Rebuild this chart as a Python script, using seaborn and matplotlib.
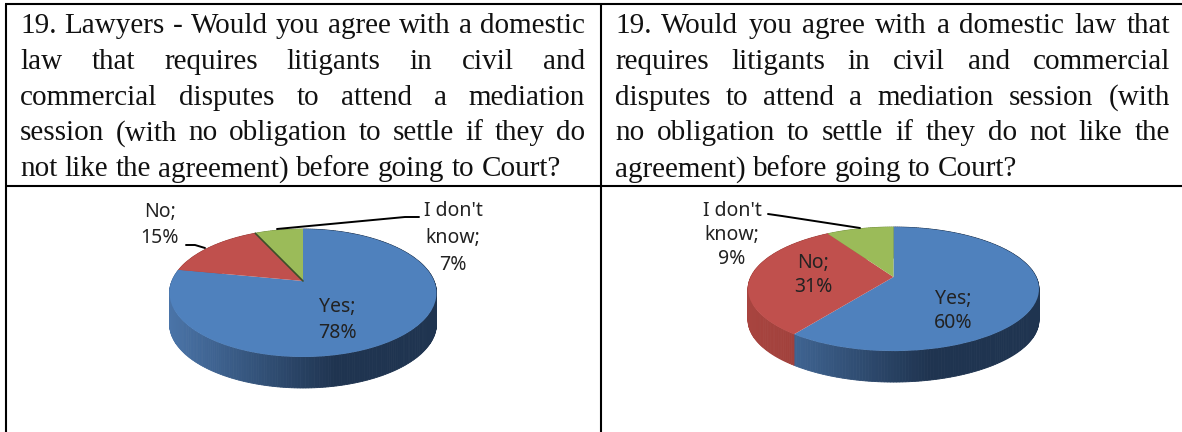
import numpy as np
import matplotlib
matplotlib.use("Agg")
import matplotlib.pyplot as plt
import matplotlib.transforms as transforms
import matplotlib.colors as mcolors
import seaborn as sns

categories = ["Yes", "No", "I don't\nknow"]
lawyers_pct = [78, 15, 7]
everyone_pct = [60, 31, 9]

question_left = [
    "19. Lawyers - Would you agree with a domestic",
    "law that requires litigants in civil and",
    "commercial disputes to attend a mediation",
    "session (with no obligation to settle if they do",
    "not like the agreement) before going to Court?",
]
question_right = [
    "19.  Would you agree with a domestic law that",
    "requires litigants in civil and commercial",
    "disputes to attend a mediation session (with",
    "no obligation to settle if they do not like the",
    "agreement) before going to Court?",
]

top_colors = sns.color_palette(["#4f81bd", "#c0504d", "#9bbb59"])
side_light = ["#4a74a8", "#a8443f", "#86a24c"]
side_dark = ["#1f3450", "#8c3833", "#6f8a3c"]


class Tilt(transforms.Transform):
    """Unit disc seen at an angle, mapped to pixel coordinates."""
    input_dims = 2
    output_dims = 2

    def __init__(self, cx, cy, b, a, p):
        super().__init__()
        self.cx, self.cy, self.b, self.a, self.p = cx, cy, b, a, p

    def transform_non_affine(self, xy):
        xy = np.asarray(xy, dtype=float)
        w = 1 + self.p * xy[:, 1]
        return np.column_stack([self.cx + self.b * xy[:, 0] / w,
                                self.cy - self.a * xy[:, 1] / w])


def draw_pie(ax, values, cx, cy, b, a, p, depth):
    tilt = Tilt(cx, cy, b, a, p)
    # side wall first, top surface covers the back half
    edges = np.cumsum([0] + list(values)) / sum(values) * 2 * np.pi
    theta = np.linspace(0, 2 * np.pi, 361)
    rim = tilt.transform_non_affine(np.column_stack([np.sin(theta), np.cos(theta)]))
    xmin, xmax = rim[:, 0].min(), rim[:, 0].max()
    for i in range(360):
        mid = (theta[i] + theta[i + 1]) / 2
        k = np.searchsorted(edges, mid) - 1
        frac = min(1, ((rim[i, 0] + rim[i + 1, 0]) / 2 - xmin) / (xmax - xmin) / 0.62)
        col = np.array(mcolors.to_rgb(side_light[k])) * (1 - frac) \
            + np.array(mcolors.to_rgb(side_dark[k])) * frac
        quad = np.array([rim[i], rim[i + 1], rim[i + 1] + [0, depth], rim[i] + [0, depth]])
        ax.fill(quad[:, 0], quad[:, 1], color=col, lw=0.6, zorder=2)

    wedges, _ = ax.pie(values, colors=top_colors, startangle=90, counterclock=False,
                       wedgeprops={"linewidth": 0})
    for w in wedges:
        w.set_transform(tilt + ax.transData)
        w.set_zorder(3)


sns.set_theme(style="white")
plt.rcParams["font.family"] = ["Liberation Serif", "DejaVu Serif"]

fig = plt.figure(figsize=(11.82, 4.32), dpi=100)
ax = fig.add_axes([0, 0, 1, 1])

draw_pie(ax, lawyers_pct, 303, 281, 131.1, 61.75, 0.1875, 31)
draw_pie(ax, everyone_pct, 893.5, 277, 142.7, 59.7, 0.194, 31)

ax.set_aspect("auto")
ax.set_xlim(0, 1182)
ax.set_ylim(432, 0)
ax.axis("off")

# dark seam between No and I don't know on the left pie
seam = np.radians(sum(lawyers_pct[:2]) / sum(lawyers_pct) * 360)
seam_xy = Tilt(303, 281, 131.1, 61.75, 0.1875).transform_non_affine(
    np.array([[0, 0], [np.sin(seam), np.cos(seam)]]))
ax.plot(seam_xy[:, 0], seam_xy[:, 1], color="#3d4f2a", lw=1.2, zorder=4)

# table rules
rule = {"color": "black", "lw": 1.5, "zorder": 5, "solid_capstyle": "butt"}
ax.plot([5, 1182], [4, 4], **rule)
ax.plot([5, 1182], [185.5, 185.5], **rule)
ax.plot([6, 6], [4, 432], **rule)
ax.plot([601, 601], [4, 432], **rule)

# justified question text, word by word
renderer = fig.canvas.get_renderer()


def put_lines(lines, x0, x1, y0, step, size=21):
    for n, line in enumerate(lines):
        words = line.split()
        texts = [ax.text(0, y0 + n * step, w, fontsize=size, color="#111111",
                         va="baseline", ha="left", zorder=6) for w in words]
        widths = [t.get_window_extent(renderer).width for t in texts]
        gap = (x1 - x0 - sum(widths)) / (len(words) - 1)
        if n == len(lines) - 1:
            gap = size * 100 / 72 * 0.25
        x = x0
        for t, wd in zip(texts, widths):
            t.set_x(x)
            x += wd + gap


put_lines(question_left, 20, 585, 33, 35.8)
put_lines(question_right, 615, 1170, 33, 35.8)

# pie labels
label_font = {"family": ["Noto Sans", "DejaVu Sans"], "fontsize": 14, "color": "#222222",
              "ha": "center", "va": "center", "multialignment": "center",
              "zorder": 7}
left_pos = [(337, 320), (160, 225), (453, 238)]
right_pos = [(953, 311), (813, 275), (732, 235)]
for cat, pct, pos in zip(categories, lawyers_pct, left_pos):
    ax.text(pos[0], pos[1], f"{cat};\n{pct}%", linespacing=1.45, **label_font)
for cat, pct, pos in zip(categories, everyone_pct, right_pos):
    ax.text(pos[0], pos[1], f"{cat};\n{pct}%", linespacing=1.3, **label_font)

# leader lines
lead = {"color": "black", "lw": 1.4, "zorder": 6}
ax.plot([419, 405, 277], [217, 217, 229], **lead)
ax.plot([186, 195, 205], [245, 245, 248], **lead)
ax.plot([768, 782, 860], [214, 216, 228], **lead)

fig.savefig("out.png", dpi=100)
